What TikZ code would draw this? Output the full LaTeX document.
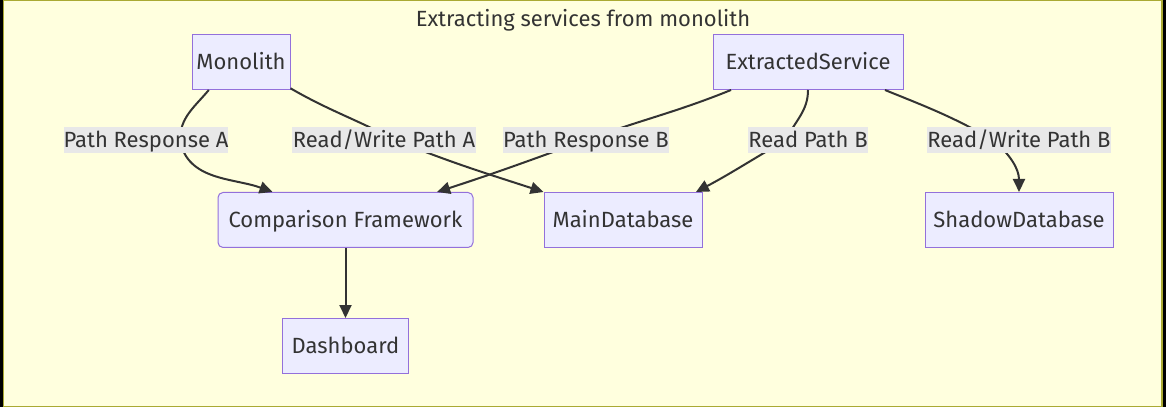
\documentclass[tikz,border=0pt]{standalone}
\usepackage{fontspec}
\setmainfont{Fira Sans}
\usetikzlibrary{arrows.meta,positioning}
\definecolor{nodefill}{HTML}{ECECFF}
\definecolor{nodeline}{HTML}{9370DB}
\definecolor{clusterfill}{HTML}{FFFFDE}
\definecolor{clusterline}{HTML}{AAAA33}
\definecolor{ink}{HTML}{333333}
\definecolor{lblfill}{HTML}{E8E8E8}

\begin{document}
\begin{tikzpicture}[x=1pt, y=1pt, font=\fontsize{22}{26}\selectfont,
                    txt/.style={text=ink, text height=19.5pt, text depth=5pt, inner sep=0pt},
                    svc/.style={txt, draw=nodeline, fill=nodefill, line width=1pt,
                                minimum height=55pt},
                    lbl/.style={txt, fill=lblfill, minimum height=26pt},
                    flow/.style={draw=ink, line width=2pt, -{Triangle[length=13pt,width=12pt]}}]

% cluster
\fill[black] (0,0) rectangle (1166,407);
\draw[draw=clusterline, fill=clusterfill, line width=1.5pt] (3.5,0.75) rectangle (1162,406.25);
\node[txt] (title) at (583,388) {Extracting services from monolith};

% nodes
\node[svc, minimum width=98pt] (mono) at (241,345) {Monolith};
\node[svc, minimum width=190pt] (ext) at (808,345) {ExtractedService};
\node[svc, minimum width=255pt, rounded corners=5pt] (cmp) at (345.5,187) {Comparison Framework};
\node[svc, minimum width=158pt] (maindb) at (623,187) {MainDatabase};
\node[svc, minimum width=188pt] (shadow) at (1019,187) {ShadowDatabase};
\node[svc, minimum width=126pt, below=70pt of cmp] (dash) {Dashboard};

% where the edges cross their labels
\coordinate (pra) at (180,267);
\coordinate (rwa) at (395,267);
\coordinate (prb) at (586,267);
\coordinate (rpb) at (786,267);
\coordinate (rwb) at (993,267);

\draw[flow] (mono.-139) to[out=-130,in=90] (pra) to[out=-80,in=160] (cmp.159);
\draw[flow] (mono.-28) to[out=-30,in=152] (rwa) to[out=-22,in=162] (maindb.north west);
\draw[flow] (ext.-160) to[out=-158,in=20] (prb) to[out=-160,in=18] (cmp.17);
\draw[flow] (ext.south) to[out=-90,in=65] (rpb) to[out=-150,in=28] (maindb.21);
\draw[flow] (ext.-20) to[out=-22,in=150] (rwb) to[out=-40,in=90] (shadow.north);
\draw[flow] (cmp) -- (dash);

% edge labels
\node[lbl, minimum width=160pt] (lblpra) at (146,267) {Path Response A};
\node[lbl, minimum width=184pt] (lblrwa) at (384,267) {Read/Write Path A};
\node[lbl, minimum width=160pt] (lblprb) at (586,267) {Path Response B};
\node[lbl, minimum width=116pt] (lblrpb) at (808,267) {Read Path B};
\node[lbl, minimum width=183pt] (lblrwb) at (1019,267) {Read/Write Path B};
\end{tikzpicture}
\end{document}
